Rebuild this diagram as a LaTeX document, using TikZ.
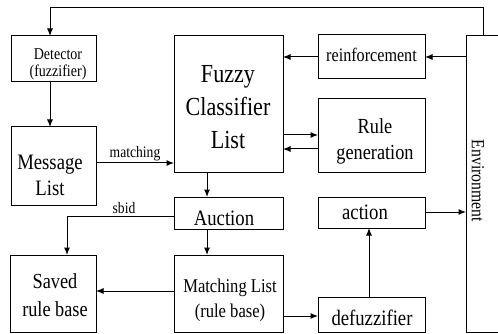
\documentclass[tikz,border=0pt]{standalone}
\usepackage{fontspec}
\setmainfont{Liberation Serif}[FakeStretch=0.85]
\usetikzlibrary{arrows.meta}
\begin{document}
\begin{tikzpicture}[x=1pt,y=-1pt,
  box/.style={draw,line width=1pt,inner sep=0pt,outer sep=0pt},
  txt/.style={inner sep=0pt,align=center},
  conn/.style={line width=1pt,-{Latex[length=7.5pt,width=6pt]}},
  plain/.style={line width=1pt}]
\useasboundingbox (0,0) rectangle (498,334);

% blocks, placed by their centres
\node[box,minimum width=85pt,minimum height=46pt] (det) at (53.5,59) {};
\node[box,minimum width=85pt,minimum height=78pt] (msg) at (53.5,166) {};
\node[box,minimum width=109pt,minimum height=136pt] (fcl) at (228.5,104) {};
\node[box,minimum width=109pt,minimum height=32pt] (auc) at (228.5,213) {};
\node[box,minimum width=86pt,minimum height=77pt] (saved) at (53,293.5) {};
\node[box,minimum width=109pt,minimum height=77pt] (mlist) at (228.5,293.5) {};
\node[box,minimum width=107pt,minimum height=35pt] (defz) at (371.5,314.5) {};
\node[box,minimum width=107pt,minimum height=31pt] (act) at (371.5,212.5) {};
\node[box,minimum width=107pt,minimum height=44pt] (rein) at (371.5,57) {};
\node[box,minimum width=107pt,minimum height=73pt] (rgen) at (371.5,135.5) {};
\node[inner sep=0pt,outer sep=0pt,minimum width=36pt,minimum height=296pt] (env) at (484,184) {};
\draw[plain] (env.north east) -- (env.north west) -- (env.south west) -- (env.south east);

% labels inside the blocks
\node[txt,font=\fontsize{16.5}{17}\selectfont] (detT) at (58,64) {Detector\\(fuzzifier)};
\node[txt,font=\fontsize{22}{26}\selectfont] (msgT) at (50,175.5) {Message\\List};
\node[txt,font=\fontsize{26}{33}\selectfont] (fclT) at (228,107.5) {Fuzzy\\Classifier\\List};
\node[txt,font=\fontsize{22}{26}\selectfont,anchor=base] (aucT) at (224,225) {Auction};
\node[txt,font=\fontsize{21.5}{28}\selectfont] (savedT) at (55,295) {Saved\\rule base};
\node[txt,font=\fontsize{19.5}{25}\selectfont] (mlistT) at (230,300) {Matching List\\(rule base)};
\node[txt,font=\fontsize{22}{26}\selectfont,anchor=base] (defzT) at (372,325) {defuzzifier};
\node[txt,font=\fontsize{22}{26}\selectfont,anchor=base] (actT) at (365,219) {action};
\node[txt,font=\fontsize{19}{23}\selectfont,anchor=base] (reinT) at (371.5,62) {reinforcement};
\node[txt,font=\fontsize{21.5}{26}\selectfont] (rgenT) at (375,141) {Rule\\generation};
\node[txt,font=\fontsize{18.5}{22}\selectfont,rotate=-90] (envT) at (478,181) {Environment};

% connectors
\coordinate (topR) at (483,8);
\coordinate (topL) at (50,8);
\draw[conn] (env.north -| topR) -- (topR) -- (topL) -- (det.north -| topL);
\draw[conn] (det.south -| topL) -- (msg.north -| topL);
\draw[conn] (msg.east |- 0,163) -- node[above=2pt,font=\fontsize{16}{17}\selectfont,inner sep=0pt] (matchT) {matching} (fcl.west |- 0,163);
\draw[conn] (env.west |- 0,57) -- (rein.east |- 0,57);
\draw[conn] (rein.west |- 0,57) -- (fcl.east |- 0,57);
\draw[conn] (fcl.east |- 0,135) -- (rgen.west |- 0,135);
\draw[conn] (rgen.west |- 0,149) -- (fcl.east |- 0,149);
\draw[conn] (fcl.south -| 207,0) -- (auc.north -| 207,0);
\draw[conn] (auc.south -| 207,0) -- (mlist.north -| 207,0);
\coordinate (sbidC) at (67,216);
\draw[conn] (auc.west |- sbidC) -- (sbidC) -- (saved.north -| sbidC);
\node[font=\fontsize{16}{18}\selectfont,inner sep=0pt,anchor=base] (sbidT) at (124,213) {sbid};
\draw[conn] (mlist.west |- 0,291) -- (saved.east |- 0,291);
\draw[conn] (mlist.east |- 0,316) -- (defz.west |- 0,316);
\draw[conn] (defz.north -| 369,0) -- (act.south -| 369,0);
\draw[conn] (act.east |- 0,212) -- (env.west |- 0,212);
\end{tikzpicture}
\end{document}
